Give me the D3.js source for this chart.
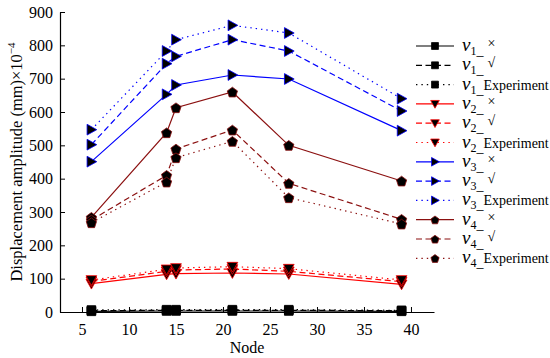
<!DOCTYPE html>
<html>
<head>
<meta charset="utf-8">
<script src="https://cdn.jsdelivr.net/npm/d3@7"></script>
<style>
  body { margin: 0; background: #fff; }
  text { font-family: "Liberation Serif", "Times New Roman", serif; }
</style>
</head>
<body>
<div id="chart"></div>
<script>
// node positions along the x axis
var nodes = [6, 14, 15, 21, 27, 39];
var yTicks = [0, 100, 200, 300, 400, 500, 600, 700, 800, 900];
var xTicks = [5, 10, 15, 20, 25, 30, 35, 40];

// amplitudes (mm x 10^-4)
var v1Cross = [2, 3, 3, 3, 3, 2];
var v1Check = [4, 5, 5, 5, 5, 4];
var v1Exp = [6, 7, 7, 7, 7, 5];
var v2Cross = [85, 113, 115, 117, 114, 83];
var v2Check = [92, 122, 126, 129, 122, 91];
var v2Exp = [96, 128, 132, 136, 130, 96];
var v3Cross = [451, 653, 681, 711, 699, 544];
var v3Check = [502, 745, 767, 817, 783, 603];
var v3Exp = [547, 783, 817, 860, 837, 640];
var v4Cross = [284, 538, 613, 660, 500, 393];
var v4Check = [276, 410, 489, 546, 386, 278];
var v4Exp = [268, 390, 463, 512, 343, 264];

var width = 550, height = 358;
var x = d3.scaleLinear().domain([2.66, 42.45]).range([60, 434]);
var y = d3.scaleLinear().domain([0, 900]).range([312, 12]);

// custom marker shapes
var shapes = {
    square: function(s) {
        return "M" + (-s) + "," + (-s) + "H" + s + "V" + s + "H" + (-s) + "Z";
    },
    triDown: function(s) {
        return "M" + (-s) + "," + (-s * 0.8) + "L" + s + "," + (-s * 0.8) + "L0," + (s * 1.0) + "Z";
    },
    triRight: function(s) {
        return "M" + (-s * 0.8) + "," + (-s) + "L" + (s * 1.0) + ",0L" + (-s * 0.8) + "," + s + "Z";
    },
    pentagon: function(s) {
        var p = [];
        for (var i = 0; i < 5; i++) {
            var a = -Math.PI / 2 + i * 2 * Math.PI / 5;
            p.push([s * 1.1 * Math.cos(a), s * 1.1 * Math.sin(a) + 0.6]);
        }
        return "M" + p.join("L") + "Z";
    }
};

var dashes = { solid: null, dash: "6,3.5", dot: "1.4,4" };

var series = [
    { v: "1", tag: "\u00d7", values: v1Cross, color: "#000", dash: "solid", shape: "square", size: 4.3 },
    { v: "1", tag: "\u221a", values: v1Check, color: "#000", dash: "dash", shape: "square", size: 4.3 },
    { v: "1", tag: "Experiment", values: v1Exp, color: "#000", dash: "dot", shape: "square", size: 4.3 },
    { v: "2", tag: "\u00d7", values: v2Cross, color: "#ff0000", dash: "solid", shape: "triDown", size: 5.4 },
    { v: "2", tag: "\u221a", values: v2Check, color: "#ff0000", dash: "dash", shape: "triDown", size: 5.4 },
    { v: "2", tag: "Experiment", values: v2Exp, color: "#ff0000", dash: "dot", shape: "triDown", size: 5.4 },
    { v: "3", tag: "\u00d7", values: v3Cross, color: "#0000ff", dash: "solid", shape: "triRight", size: 5.4 },
    { v: "3", tag: "\u221a", values: v3Check, color: "#0000ff", dash: "dash", shape: "triRight", size: 5.4 },
    { v: "3", tag: "Experiment", values: v3Exp, color: "#0000ff", dash: "dot", shape: "triRight", size: 5.4 },
    { v: "4", tag: "\u00d7", values: v4Cross, color: "#8b1010", dash: "solid", shape: "pentagon", size: 4.9 },
    { v: "4", tag: "\u221a", values: v4Check, color: "#8b1010", dash: "dash", shape: "pentagon", size: 4.9 },
    { v: "4", tag: "Experiment", values: v4Exp, color: "#8b1010", dash: "dot", shape: "pentagon", size: 4.9 }
];

var svg = d3.select("#chart").append("svg")
    .attr("width", width)
    .attr("height", height);

// axes
var xAxis = svg.append("g")
    .attr("transform", "translate(0,312)")
    .call(d3.axisBottom(x).tickValues(xTicks).tickSizeInner(-5).tickSizeOuter(0).tickPadding(12));
var yAxis = svg.append("g")
    .attr("transform", "translate(60,0)")
    .call(d3.axisLeft(y).tickValues(yTicks).tickSizeInner(-5).tickSizeOuter(0).tickPadding(7));

[xAxis, yAxis].forEach(function(ax) {
    ax.select(".domain").attr("stroke", "#000").attr("stroke-width", 1.2);
    ax.selectAll(".tick line").attr("stroke", "#000");
    ax.selectAll(".tick text")
        .attr("fill", "#000")
        .style("font-family", "'Liberation Serif', serif")
        .style("font-size", "16px");
});

svg.append("text")
    .attr("x", 247).attr("y", 353)
    .attr("text-anchor", "middle")
    .style("font-size", "16px")
    .text("Node");

var yl = svg.append("text")
    .attr("transform", "translate(22,162) rotate(-90)")
    .attr("text-anchor", "middle")
    .style("font-size", "16.5px");
yl.append("tspan").text("Displacement amplitude (mm)\u00d710");
yl.append("tspan").attr("dy", -7).style("font-size", "11px").text("\u22124");

var line = d3.line()
    .x(function(d, i) { return x(nodes[i]); })
    .y(function(d) { return y(d); });

// lines first, then markers on top
series.forEach(function(s) {
    svg.append("path")
        .datum(s.values)
        .attr("d", line)
        .attr("fill", "none")
        .attr("stroke", s.color)
        .attr("stroke-width", 1.2)
        .attr("stroke-dasharray", dashes[s.dash]);
});

series.forEach(function(s) {
    svg.append("g").selectAll("path")
        .data(s.values)
        .enter().append("path")
        .attr("transform", function(d, i) { return "translate(" + x(nodes[i]) + "," + y(d) + ")"; })
        .attr("d", shapes[s.shape](s.size))
        .attr("fill", "#000")
        .attr("stroke", s.color)
        .attr("stroke-width", 0.8);
});

// legend
var legend = svg.append("g");
series.forEach(function(s, i) {
    var ly = 46 + i * 19.3;
    var row = legend.append("g").attr("transform", "translate(0," + ly + ")");
    row.append("line")
        .attr("x1", 416).attr("x2", 454)
        .attr("stroke", s.color)
        .attr("stroke-width", 1.2)
        .attr("stroke-dasharray", dashes[s.dash]);
    row.append("path")
        .attr("transform", "translate(435,0)")
        .attr("d", shapes[s.shape](s.size * 0.8))
        .attr("fill", "#000")
        .attr("stroke", s.color)
        .attr("stroke-width", 0.8);
    var t = row.append("text").attr("x", 462).attr("y", 5).style("font-size", "19px");
    t.append("tspan").style("font-style", "italic").text("v");
    t.append("tspan").attr("dy", 4).style("font-size", "12px").text(s.v);
    t.append("tspan").style("font-size", "14px").text("_");
    if (s.tag === "Experiment") {
        t.append("tspan").attr("dy", -4).style("font-size", "14px").text(s.tag);
    } else {
        t.append("tspan").attr("dx", 4).attr("dy", -7).style("font-size", "14px").text(s.tag);
    }
});
</script>
</body>
</html>
